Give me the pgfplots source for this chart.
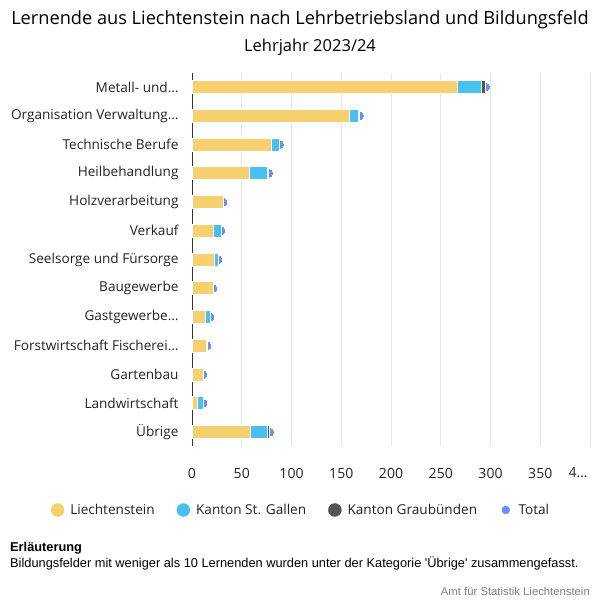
\documentclass[border=0pt]{standalone}
\usepackage{pgfplots}
\pgfplotsset{compat=1.18}
\usepackage{pgfplotstable}
\usepackage{fontspec}
\setmainfont{Open Sans}
\newfontfamily\arialfont{Liberation Sans}
\definecolor{cLI}{HTML}{F6D06E}
\definecolor{cSG}{HTML}{48C1F0}
\definecolor{cGR}{HTML}{555555}
\definecolor{cTot}{HTML}{6A8FF5}
\definecolor{cGrid}{HTML}{E6E6E6}
\definecolor{cAxis}{HTML}{333333}
\definecolor{cText}{HTML}{222222}

\pgfplotstableread{
idx LI SG GR Total
0 267 24 4 295
1 158 9 1 168
2 80 8 0 88
3 58 18 1 77
4 31 0 0 31
5 21 8 0 29
6 22 4 0 26
7 21 0 0 21
8 13 5 0 18
9 14 1 0 15
10 11 0 0 11
11 5 6 0 11
12 59 17 2 78
}\data

\begin{document}
\begin{tikzpicture}
\path[use as bounding box] (0,0) rectangle (600bp,600bp);
\pgfplotsset{base/.style={at={(192bp,153.6bp)}, anchor=south west, scale only axis,
  width=398bp, height=373.75bp, xmin=0, xmax=400, ymin=-0.5, ymax=12.5, y dir=reverse}}
\begin{axis}[base, axis line style={draw=none}, xtick={50,100,...,400}, xticklabels={},
  ytick=\empty, xmajorgrids, grid style={cGrid, line width=0.8bp}, major tick length=0]
\addplot[color=cTot, only marks, mark=*, mark size=4bp, mark options={draw=cTot, fill=cTot, line width=0pt}] table[x=Total, y=idx]{\data};
\end{axis}
\begin{axis}[base, xbar stacked, bar width=13bp,
  axis y line*=left, axis x line*=bottom,
  x axis line style={draw=none}, y axis line style={draw=cAxis, line width=1bp},
  major tick length=0,
  xtick={0,50,...,400}, xticklabels={0,50,100,150,200,250,300,350,4…\kern24bp},
  ytick={0,...,12},
  yticklabels={Metall- und…,Organisation Verwaltung…,Technische Berufe,Heilbehandlung,Holzverarbeitung,Verkauf,Seelsorge und Fürsorge,Baugewerbe,Gastgewerbe…,Forstwirtschaft Fischerei…,Gartenbau,Landwirtschaft,Übrige},
  xticklabel style={font=\fontsize{14bp}{16bp}\selectfont, text=cText, yshift=-18bp},
  yticklabel style={font=\fontsize{13.6bp}{16bp}\selectfont, text=cText, xshift=-10bp},
]
\addplot[fill=cLI, draw=white, line width=0.6bp] table[x=LI, y=idx]{\data};
\addplot[fill=cSG, draw=white, line width=0.6bp] table[x=SG, y=idx]{\data};
\addplot[fill=cGR, draw=white, line width=0.6bp] table[x=GR, y=idx]{\data};
\end{axis}
\begin{axis}[at={(301bp,90bp)}, anchor=center, scale only axis, width=10bp, height=10bp,
  hide axis, xmin=0, xmax=1, ymin=0, ymax=1,
  legend style={at={(0.5,0.5)}, anchor=center, legend columns=4, draw=none, fill=none,
    font=\fontsize{13.6bp}{16bp}\selectfont, text=cText,
    /tikz/every even column/.append style={column sep=20bp}},
]
\addlegendimage{legend image code/.code={\fill[cLI] (0bp,0bp) circle (6.5bp); \path (10.5bp,0bp);}}
\addlegendentry{Liechtenstein}
\addlegendimage{legend image code/.code={\fill[cSG] (0bp,0bp) circle (6.5bp); \path (10.5bp,0bp);}}
\addlegendentry{Kanton St. Gallen}
\addlegendimage{legend image code/.code={\fill[cGR] (0bp,0bp) circle (6.5bp); \path (10.5bp,0bp);}}
\addlegendentry{Kanton Graubünden}
\addlegendimage{legend image code/.code={\fill[cTot] (0bp,0bp) circle (4bp); \path (-6.5bp,0bp) (10.5bp,0bp);}}
\addlegendentry{Total}
\end{axis}
\node[text=black] at (300bp,580bp) {\fontsize{18.2bp}{21bp}\selectfont Lernende aus Liechtenstein nach Lehrbetriebsland und Bildungsfeld};
\node[text=black] at (310bp,553bp) {\fontsize{16.5bp}{19bp}\selectfont Lehrjahr 2023/24};
\node[anchor=west, inner sep=0] at (10bp,52bp) {\arialfont\bfseries\fontsize{12.8bp}{15bp}\selectfont Erläuterung};
\node[anchor=west, inner sep=0] at (10bp,37bp) {\arialfont\fontsize{12.8bp}{15bp}\selectfont Bildungsfelder mit weniger als 10 Lernenden wurden unter der Kategorie 'Übrige' zusammengefasst.};
\node[anchor=east, inner sep=0, text=gray] at (590bp,9bp) {\arialfont\fontsize{11.3bp}{13bp}\selectfont Amt für Statistik Liechtenstein};
\end{tikzpicture}
\end{document}
